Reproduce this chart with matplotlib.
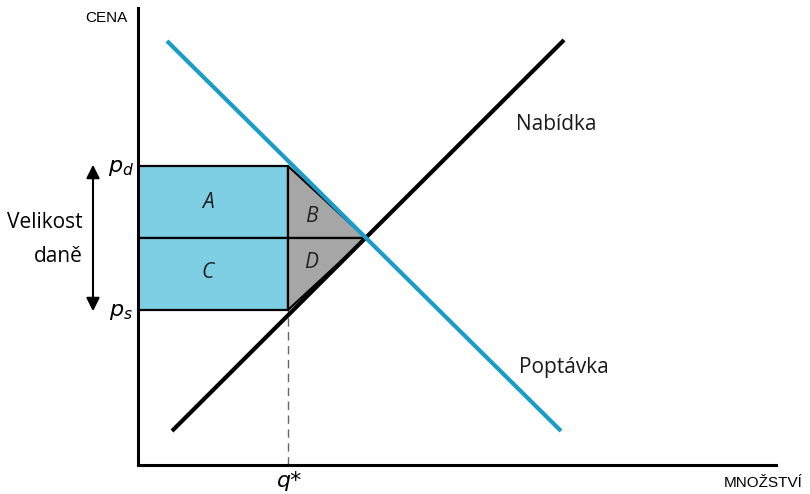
import matplotlib
matplotlib.use("Agg")
import matplotlib.pyplot as plt
from matplotlib.patches import Polygon, Rectangle, FancyArrowPatch

# Data (in chart units)
demand_q = [29, 423]
demand_p = [424, 34]
supply_q = [34, 426]
supply_p = [34, 425]
q_star = 150
p_d = 299
p_s = 155
p_mid = 227
q_eq = 228
x_max = 638
y_max = 457

BLUE_LINE = "#1A9CC8"
BLUE_FILL = "#7ECFE3"
GRAY_FILL = "#A6A6A6"

plt.rcParams['font.family'] = ['Open Sans', 'DejaVu Sans']
plt.rcParams['mathtext.fontset'] = 'dejavusans'

fig = plt.figure(figsize=(8.1, 4.94), dpi=100)
ax = fig.add_axes([138/810, 29/494, 638/810, 457/494])
ax.set_xlim(0, x_max)
ax.set_ylim(0, y_max)
for s in ['top', 'right']:
    ax.spines[s].set_visible(False)
for s in ['left', 'bottom']:
    ax.spines[s].set_linewidth(2.2)
    ax.spines[s].set_color('black')
ax.set_xticks([])
ax.set_yticks([])
ax.patch.set_alpha(0)

# Rectangles A and C
ax.add_patch(Rectangle((0, p_mid), q_star, p_d - p_mid, facecolor=BLUE_FILL,
                       edgecolor='black', linewidth=1.6, zorder=2))
ax.add_patch(Rectangle((0, p_s), q_star, p_mid - p_s, facecolor=BLUE_FILL,
                       edgecolor='black', linewidth=1.6, zorder=2))
# Triangles B and D
ax.add_patch(Polygon([(q_star, p_d), (q_star, p_mid), (q_eq, p_mid)], closed=True,
                     facecolor=GRAY_FILL, edgecolor='black', linewidth=1.6, zorder=2))
ax.add_patch(Polygon([(q_star, p_mid), (q_star, p_s), (q_eq, p_mid)], closed=True,
                     facecolor=GRAY_FILL, edgecolor='black', linewidth=1.6, zorder=2))

# Dashed q* line
ax.plot([q_star, q_star], [0, p_s], color='#666666', linestyle=(0, (6, 4)),
        linewidth=1.0, zorder=1)

# Supply and demand
ax.plot(supply_q, supply_p, color='black', linewidth=3.0, solid_capstyle='butt', zorder=3)
ax.plot(demand_q, demand_p, color=BLUE_LINE, linewidth=3.0, solid_capstyle='butt', zorder=4)

# Area labels
lab_kw = dict(fontsize=15, style='italic', color='#222222', ha='center', va='center', zorder=5)
ax.text(70, 263, 'A', **lab_kw)
ax.text(70, 192, 'C', **lab_kw)
ax.text(173, 248, 'B', **lab_kw)
ax.text(173, 203, 'D', **lab_kw)

# Curve labels
ax.text(378, 341, 'Nabídka', fontsize=15, color='#1a1a1a', ha='left', va='center')
ax.text(381, 98, 'Poptávka', fontsize=15, color='#1a1a1a', ha='left', va='center')

# Axis labels
fig.text(128/810, 1 - 18/494, 'CENA', fontsize=11, ha='right', va='center',
         family=['Liberation Sans', 'DejaVu Sans'])
fig.text(803/810, 1 - 483/494, 'MNOŽSTVÍ', fontsize=11, ha='right', va='center',
         family=['Liberation Sans', 'DejaVu Sans'])

# Price labels
fig.text(121/810, 1 - 168/494, r'$p_d$', fontsize=16, ha='center', va='center')
fig.text(121/810, 1 - 311/494, r'$p_s$', fontsize=16, ha='center', va='center')
fig.text(290/810, 1 - 481/494, 'q*', fontsize=16, style='italic', ha='center', va='center',
         family=['DejaVu Sans'])

# Tax size arrow and label
arr = FancyArrowPatch((93/810, 1 - 162/494), (93/810, 1 - 314/494),
                      transform=fig.transFigure, arrowstyle='<|-|>',
                      mutation_scale=20, color='black', linewidth=1.5)
fig.add_artist(arr)
fig.text(83/810, 1 - 223/494, 'Velikost', fontsize=15, ha='right', va='center')
fig.text(83/810, 1 - 256/494, 'daně', fontsize=15, ha='right', va='center')

fig.savefig('out.png', dpi=100, facecolor='white')
